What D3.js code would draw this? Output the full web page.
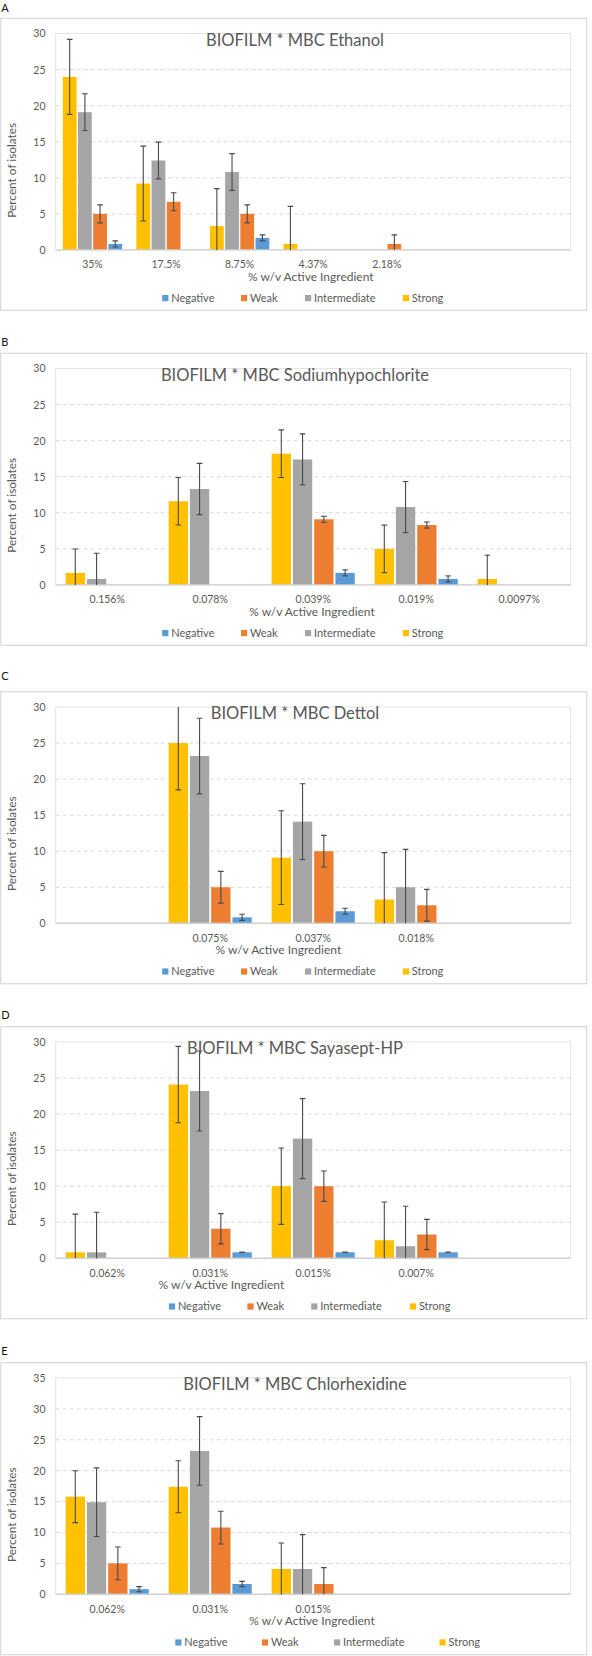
<!DOCTYPE html>
<html>
<head>
<meta charset="utf-8">
<script src="https://cdn.jsdelivr.net/npm/d3@7/dist/d3.min.js"></script>
<style>
  html, body { margin: 0; padding: 0; background: #fff; }
  svg { display: block; font-family: Lato, "Open Sans", sans-serif; }
</style>
</head>
<body>
<svg id="chart" width="592" height="1656"></svg>
<script>
// ---------- DATA ----------
const seriesNames = ["Negative", "Weak", "Intermediate", "Strong"];
const seriesColors = ["#5B9BD5", "#ED7D31", "#A5A5A5", "#FFC000"];
const barOrder = ["Strong", "Intermediate", "Weak", "Negative"];

const panelLetters = ["A", "B", "C", "D", "E"];
const panelTitles = [
  "BIOFILM * MBC Ethanol",
  "BIOFILM * MBC Sodiumhypochlorite",
  "BIOFILM * MBC Dettol",
  "BIOFILM * MBC Sayasept-HP",
  "BIOFILM * MBC Chlorhexidine"
];
const xAxisTitle = "% w/v Active Ingredient";
const yAxisTitle = "Percent of isolates";
const yMaxes = [30, 30, 30, 30, 35];

// A: Ethanol
const ethCats = ["35%", "17.5%", "8.75%", "4.37%", "2.18%", "", ""];
const ethNegative = [0.83, null, 1.67, null, null, null, null];
const ethWeak = [5.0, 6.67, 5.0, null, 0.83, null, null];
const ethIntermediate = [19.1, 12.4, 10.8, null, null, null, null];
const ethStrong = [24.0, 9.2, 3.3, 0.83, null, null, null];
const ethErr = [0.42, 1.25, 2.55, 5.2]; // Negative, Weak, Intermediate, Strong

// B: Sodium hypochlorite
const sodCats = ["0.156%", "0.078%", "0.039%", "0.019%", "0.0097%"];
const sodNegative = [null, null, 1.67, 0.83, null];
const sodWeak = [null, null, 9.1, 8.3, null];
const sodIntermediate = [0.83, 13.3, 17.4, 10.8, null];
const sodStrong = [1.67, 11.6, 18.2, 5.0, 0.83];
const sodErr = [0.42, 0.42, 3.55, 3.3];

// C: Dettol
const detCats = ["", "0.075%", "0.037%", "0.018%", ""];
const detNegative = [null, 0.83, 1.67, null, null];
const detWeak = [null, 5.0, 10.0, 2.5, null];
const detIntermediate = [null, 23.2, 14.1, 5.0, null];
const detStrong = [null, 25.0, 9.1, 3.3, null];
const detErr = [0.42, 2.2, 5.25, 6.5];

// D: Sayasept-HP
const sayCats = ["0.062%", "0.031%", "0.015%", "0.007%", ""];
const sayNegative = [null, 0.83, 0.83, 0.83, null];
const sayWeak = [null, 4.1, 10.0, 3.3, null];
const sayIntermediate = [0.83, 23.2, 16.6, 1.67, null];
const sayStrong = [0.83, 24.1, 10.0, 2.5, null];
const sayErr = [0, 2.1, 5.55, 5.3];

// E: Chlorhexidine
const chxCats = ["0.062%", "0.031%", "0.015%", "", ""];
const chxNegative = [0.83, 1.67, null, null, null];
const chxWeak = [5.0, 10.8, 1.67, null, null];
const chxIntermediate = [14.9, 23.2, 4.1, null, null];
const chxStrong = [15.8, 17.4, 4.1, null, null];
const chxErr = [0.42, 2.65, 5.55, 4.2];

// ---------- LAYOUT ----------
const boxTops = [18.3, 353.3, 691.7, 1026.7, 1362.7];
const letterOffsets = [-6.6, -7.3, -11.7, -7.7, -8];
const xTitleCenters = [310.8, 312, 278.4, 221.4, 312];
const legendXs = [
  [162.2, 241, 305, 402.8],
  [162.2, 241, 305, 402.8],
  [162.2, 241, 305, 402.8],
  [168.9, 247.4, 311.2, 409.9],
  [175.3, 261.9, 334, 439.5]
];
const boxLeft = 0.7, boxRight = 586.7, boxH = 292;
const plotL = 55.7, plotR = 570.7, plotTopOff = 15.3, plotBotOff = 231.6;

const panels = [
  { cats: ethCats, series: [ethNegative, ethWeak, ethIntermediate, ethStrong], err: ethErr },
  { cats: sodCats, series: [sodNegative, sodWeak, sodIntermediate, sodStrong], err: sodErr },
  { cats: detCats, series: [detNegative, detWeak, detIntermediate, detStrong], err: detErr },
  { cats: sayCats, series: [sayNegative, sayWeak, sayIntermediate, sayStrong], err: sayErr },
  { cats: chxCats, series: [chxNegative, chxWeak, chxIntermediate, chxStrong], err: chxErr }
];

const svg = d3.select("#chart");
svg.append("rect").attr("width", 592).attr("height", 1656).attr("fill", "#fff");

const color = d3.scaleOrdinal().domain(seriesNames).range(seriesColors);
const textColor = "#595959";

panels.forEach((p, pi) => {
  const top = boxTops[pi];
  const g = svg.append("g");
  const n = p.cats.length;

  // panel letter
  g.append("text").attr("x", 1.3).attr("y", top + letterOffsets[pi])
    .attr("font-size", 11).attr("fill", "#111").text(panelLetters[pi]);

  // chart box
  g.append("rect").attr("x", boxLeft).attr("y", top)
    .attr("width", boxRight - boxLeft).attr("height", boxH)
    .attr("fill", "#fff").attr("stroke", "#d9d9d9").attr("stroke-width", 1.2);

  const y0 = top + plotBotOff, y1 = top + plotTopOff;
  const y = d3.scaleLinear().domain([0, yMaxes[pi]]).range([y0, y1]);
  const x0 = d3.scaleBand().domain(d3.range(n)).range([plotL, plotR])
    .paddingInner(0.193).paddingOuter(0.0965);
  const x1 = d3.scaleBand().domain(barOrder).range([0, x0.bandwidth()]).paddingInner(0.092);

  const ticks = d3.range(0, yMaxes[pi] + 0.001, 5);

  // plot area border
  g.append("rect").attr("x", plotL).attr("y", y1)
    .attr("width", plotR - plotL).attr("height", y0 - y1)
    .attr("fill", "none").attr("stroke", "#e3e3e3").attr("stroke-width", 1);

  // gridlines
  g.append("g").selectAll("line").data(ticks.filter(t => t > 0 && t < yMaxes[pi]))
    .join("line")
    .attr("x1", plotL).attr("x2", plotR)
    .attr("y1", d => y(d)).attr("y2", d => y(d))
    .attr("stroke", "#d9d9d9").attr("stroke-width", 1).attr("stroke-dasharray", "4,3");

  // y axis
  const yAxis = g.append("g").attr("transform", `translate(${plotL},0)`)
    .call(d3.axisLeft(y).tickValues(ticks).tickSize(0).tickPadding(10.2).tickFormat(d3.format("d")));
  yAxis.select(".domain").remove();
  yAxis.selectAll("text").attr("fill", textColor).attr("font-size", 10.5)
    .attr("font-family", "Lato, sans-serif");

  // x axis labels
  const xAxis = g.append("g").attr("transform", `translate(0,${y0})`)
    .call(d3.axisBottom(x0).tickSize(0).tickPadding(11).tickFormat(i => p.cats[i]));
  xAxis.select(".domain").remove();
  xAxis.selectAll("text").attr("fill", textColor).attr("font-size", 10.5)
    .attr("font-family", "Lato, sans-serif");

  // clip
  const clipId = "clip" + pi;
  svg.append("clipPath").attr("id", clipId).append("rect")
    .attr("x", plotL).attr("y", y1).attr("width", plotR - plotL).attr("height", y0 - y1);

  // bars
  const barData = [];
  p.series.forEach((vals, si) => {
    vals.forEach((v, ci) => {
      if (v !== null) barData.push({ s: seriesNames[si], si, ci, v, e: p.err[si] });
    });
  });
  const barsG = g.append("g").attr("clip-path", `url(#${clipId})`);
  barsG.selectAll("rect").data(barData).join("rect")
    .attr("x", d => x0(d.ci) + x1(d.s))
    .attr("y", d => y(d.v))
    .attr("width", x1.bandwidth())
    .attr("height", d => y(0) - y(d.v))
    .attr("fill", d => color(d.s));

  // zero axis line
  g.append("line").attr("x1", plotL).attr("x2", plotR).attr("y1", y0).attr("y2", y0)
    .attr("stroke", "#d0d0d0").attr("stroke-width", 1.4);

  // error bars
  const errG = g.append("g").attr("clip-path", `url(#${clipId})`)
    .attr("stroke", "#4a4a4a").attr("stroke-width", 1.1);
  const capW = 2.8;
  barData.forEach(d => {
    const cx = x0(d.ci) + x1(d.s) + x1.bandwidth() / 2;
    const hi = y(d.v + d.e), lo = y(d.v - d.e);
    errG.append("line").attr("x1", cx).attr("x2", cx).attr("y1", hi).attr("y2", lo);
    errG.append("line").attr("x1", cx - capW).attr("x2", cx + capW).attr("y1", hi).attr("y2", hi);
    errG.append("line").attr("x1", cx - capW).attr("x2", cx + capW).attr("y1", lo).attr("y2", lo);
  });

  // title
  g.append("text").attr("x", 295).attr("y", top + 27.4).attr("text-anchor", "middle")
    .attr("font-size", 16.5).attr("fill", textColor).text(panelTitles[pi]);

  // x axis title
  g.append("text").attr("x", xTitleCenters[pi]).attr("y", top + 262.2).attr("text-anchor", "middle")
    .attr("font-size", 12).attr("fill", textColor).text(xAxisTitle);

  // y axis title
  g.append("text").attr("transform", `translate(16.3,${top + 152}) rotate(-90)`)
    .attr("text-anchor", "middle").attr("font-size", 11.8).attr("fill", textColor).text(yAxisTitle);

  // legend
  const lg = g.append("g");
  seriesNames.forEach((s, si) => {
    const lx = legendXs[pi][si];
    lg.append("rect").attr("x", lx).attr("y", top + 276.7).attr("width", 6.2).attr("height", 6.2)
      .attr("fill", color(s));
    lg.append("text").attr("x", lx + 9).attr("y", top + 283.4).attr("font-size", 11)
      .attr("fill", textColor).text(s);
  });
});
</script>
</body>
</html>
